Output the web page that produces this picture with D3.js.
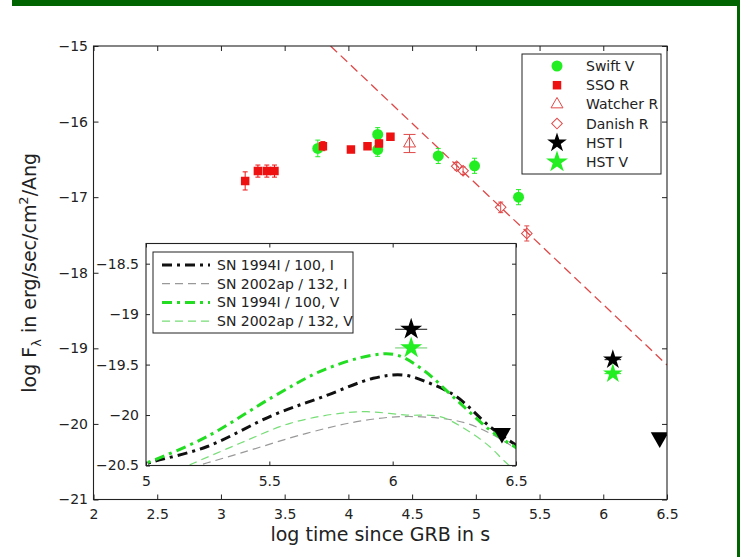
<!DOCTYPE html>
<html><head><meta charset="utf-8">
<script src="https://cdn.jsdelivr.net/npm/d3@7"></script>
<style>
body{margin:0;background:#fff}
svg{display:block}
text{font-family:"DejaVu Sans",sans-serif;fill:#222}
</style>
</head><body>
<svg id="c" width="740" height="557"></svg>
<script>
// ---------- data ----------
const xTicks = [2, 2.5, 3, 3.5, 4, 4.5, 5, 5.5, 6, 6.5];
const xTickLabels = ["2", "2.5", "3", "3.5", "4", "4.5", "5", "5.5", "6", "6.5"];
const yTicks = [-21, -20, -19, -18, -17, -16, -15];
const yTickLabels = ["\u221221", "\u221220", "\u221219", "\u221218", "\u221217", "\u221216", "\u221215"];

const insetXTicks = [5, 5.5, 6, 6.5];
const insetXTickLabels = ["5", "5.5", "6", "6.5"];
const insetYTicks = [-20.5, -20, -19.5, -19, -18.5];
const insetYTickLabels = ["\u221220.5", "\u221220", "\u221219.5", "\u221219", "\u221218.5"];

// Swift V
const swiftT   = [3.76, 4.23, 4.23, 4.705, 4.99, 5.335];
const swiftV   = [-16.355, -16.17, -16.37, -16.455, -16.585, -17.0];
const swiftErr = [0.11, 0.09, 0.09, 0.10, 0.10, 0.10];
// SSO R
const ssoT   = [3.19, 3.29, 3.36, 3.42, 3.80, 4.02, 4.15, 4.24, 4.33];
const ssoR   = [-16.785, -16.655, -16.655, -16.655, -16.325, -16.37, -16.325, -16.29, -16.2];
const ssoErr = [0.12, 0.08, 0.08, 0.08, 0.06, 0.04, 0.04, 0.05, 0.04];
// Watcher R
const watcherT = [4.48];
const watcherR = [-16.29];
const watcherErr = [0.12];
// Danish R
const danishT   = [4.85, 4.90, 5.195, 5.40];
const danishR   = [-16.59, -16.65, -17.135, -17.48];
const danishErr = [0.05, 0.05, 0.07, 0.10];
// HST
const hstT = [6.075];
const hstTErr = [0.065];
const hstI = [-19.15];
const hstV = [-19.335];
// HST I upper limit
const limT = [6.443];
const limI = [-20.18];
// power-law fit (red dashed)
const fitT = [3.86, 6.5];
const fitR = [-15.0, -19.22];

// Inset: supernova template curves
const sn94IT = [4.95, 5.016, 5.246, 5.516, 5.719, 5.921, 6.043, 6.151, 6.259, 6.394, 6.489, 6.55];
const sn94IV = [-20.53, -20.472, -20.314, -20.0, -19.818, -19.636, -19.603, -19.685, -19.818, -20.115, -20.28, -20.38];
const sn02IT = [5.08, 5.219, 5.381, 5.651, 5.854, 6.03, 6.192, 6.3, 6.394, 6.489, 6.55];
const sn02IV = [-20.6, -20.495, -20.379, -20.181, -20.066, -20.016, -20.032, -20.082, -20.181, -20.314, -20.4];
const sn94VT = [4.95, 5.016, 5.246, 5.516, 5.719, 5.921, 6.016, 6.124, 6.259, 6.394, 6.503, 6.55];
const sn94VV = [-20.52, -20.462, -20.215, -19.818, -19.554, -19.405, -19.405, -19.554, -19.851, -20.148, -20.33, -20.41];
const sn02VT = [5.08, 5.192, 5.381, 5.584, 5.786, 5.895, 6.057, 6.192, 6.3, 6.394, 6.448, 6.5];
const sn02VV = [-20.6, -20.478, -20.28, -20.082, -19.983, -19.967, -20.0, -20.016, -20.148, -20.314, -20.445, -20.56];

const mainLegend = ["Swift V", "SSO R", "Watcher R", "Danish R", "HST I", "HST V"];
const insetLegend = ["SN 1994I / 100, I", "SN 2002ap / 132, I", "SN 1994I / 100, V", "SN 2002ap / 132, V"];

// ---------- styles ----------
const GREEN = "#22ee22", RED = "#ee1111", RED2 = "#e04848", INK = "#222";
const curveStyles = [
  {color: "#111", width: 3, dash: "10,5,3,5"},
  {color: "#999", width: 1.2, dash: "8,5"},
  {color: "#22dd22", width: 3, dash: "10,5,3,5"},
  {color: "#77dd77", width: 1.2, dash: "8,5"}
];

const svg = d3.select("#c");

// green frame
svg.append("rect").attr("x", 12).attr("y", 0).attr("width", 728).attr("height", 6).attr("fill", "#006400");
svg.append("rect").attr("x", 737).attr("y", 0).attr("width", 3).attr("height", 557).attr("fill", "#006400");

// ---------- main axes ----------
const M = {l: 93.5, r: 667, t: 46, b: 499.5};
const x = d3.scaleLinear().domain([2, 6.5]).range([M.l, M.r]);
const y = d3.scaleLinear().domain([-21, -15]).range([M.b, M.t]);

function drawAxes(g, xs, ys, box, xt, xl, yt, yl, tk, padX, padY) {
  const fs = "14px";
  const b = g.append("g").attr("transform", `translate(0,${box.b})`)
    .call(d3.axisBottom(xs).tickValues(xt).tickFormat((d, i) => xl[i]).tickSizeInner(-tk).tickSizeOuter(0).tickPadding(padX));
  const t = g.append("g").attr("transform", `translate(0,${box.t})`)
    .call(d3.axisTop(xs).tickValues(xt).tickFormat("").tickSizeInner(-tk).tickSizeOuter(0));
  const l = g.append("g").attr("transform", `translate(${box.l},0)`)
    .call(d3.axisLeft(ys).tickValues(yt).tickFormat((d, i) => yl[i]).tickSizeInner(-tk).tickSizeOuter(0).tickPadding(padY));
  const r = g.append("g").attr("transform", `translate(${box.r},0)`)
    .call(d3.axisRight(ys).tickValues(yt).tickFormat("").tickSizeInner(-tk).tickSizeOuter(0));
  [b, t, l, r].forEach(a => {
    a.select(".domain").remove();
    a.selectAll(".tick line").attr("stroke", INK);
    a.selectAll("text").style("font-size", fs).attr("fill", INK).style("font-family", '"DejaVu Sans",sans-serif');
  });
  g.append("rect").attr("x", box.l).attr("y", box.t).attr("width", box.r - box.l).attr("height", box.b - box.t)
    .attr("fill", "none").attr("stroke", INK).attr("stroke-width", 1.1);
}

svg.append("defs").append("clipPath").attr("id", "mainClip")
  .append("rect").attr("x", M.l).attr("y", M.t).attr("width", M.r - M.l).attr("height", M.b - M.t);

const gMain = svg.append("g");
const gData = gMain.append("g").attr("clip-path", "url(#mainClip)");

// fit line
gData.append("path")
  .attr("d", d3.line().x((d, i) => x(fitT[i])).y((d, i) => y(fitR[i]))(fitT))
  .attr("fill", "none").attr("stroke", RED2).attr("stroke-width", 1.3).attr("stroke-dasharray", "9,5");

function errBars(g, xs, ys, T, V, E, color, cap) {
  T.forEach((t, i) => {
    const cx = xs(t), y1 = ys(V[i] - E[i]), y2 = ys(V[i] + E[i]);
    g.append("line").attr("x1", cx).attr("x2", cx).attr("y1", y1).attr("y2", y2).attr("stroke", color).attr("stroke-width", 1);
    [y1, y2].forEach(yy => g.append("line").attr("x1", cx - cap).attr("x2", cx + cap).attr("y1", yy).attr("y2", yy).attr("stroke", color).attr("stroke-width", 1));
  });
}
function hErrBars(g, xs, ys, T, TE, V, color) {
  T.forEach((t, i) => {
    const cy = ys(V[i]);
    g.append("line").attr("x1", xs(t - TE[i])).attr("x2", xs(t + TE[i])).attr("y1", cy).attr("y2", cy).attr("stroke", color).attr("stroke-width", 1);
  });
}
const sym = (type, size) => d3.symbol().type(type).size(size)();
function markers(g, xs, ys, T, V, path, fill, stroke, rot) {
  T.forEach((t, i) => {
    g.append("path").attr("d", path)
      .attr("transform", `translate(${xs(t)},${ys(V[i])})${rot ? " rotate(" + rot + ")" : ""}`)
      .attr("fill", fill).attr("stroke", stroke).attr("stroke-width", stroke === "none" ? 0 : 1);
  });
}

const P = {
  circle: sym(d3.symbolCircle, 95),
  square: sym(d3.symbolSquare, 72),
  tri: sym(d3.symbolTriangle, 62),
  diamond: sym(d3.symbolSquare, 56),
  star: sym(d3.symbolStar, 120),
  starBig: sym(d3.symbolStar, 150),
  down: sym(d3.symbolTriangle, 140)
};

errBars(gData, x, y, ssoT, ssoR, ssoErr, RED, 2.5);
errBars(gData, x, y, swiftT, swiftV, swiftErr, GREEN, 2.5);
errBars(gData, x, y, watcherT, watcherR, watcherErr, RED2, 6);
errBars(gData, x, y, danishT, danishR, danishErr, RED2, 2.5);
markers(gData, x, y, swiftT, swiftV, P.circle, GREEN, "none");
markers(gData, x, y, ssoT, ssoR, P.square, RED, "none");
markers(gData, x, y, watcherT, watcherR, P.tri, "none", RED2);
markers(gData, x, y, danishT, danishR, P.diamond, "none", RED2, 45);
hErrBars(gData, x, y, hstT, hstTErr, hstI, "#111");
hErrBars(gData, x, y, hstT, hstTErr, hstV, GREEN);
markers(gData, x, y, hstT, hstI, P.star, "#000", "none");
markers(gData, x, y, hstT, hstV, P.star, GREEN, "none");
markers(gData, x, y, limT, limI, P.down, "#000", "none", 180);

drawAxes(gMain, x, y, M, xTicks, xTickLabels, yTicks, yTickLabels, 5, 9.5, 5.5);

// axis titles
svg.append("text").attr("x", (M.l + M.r) / 2).attr("y", 541).attr("text-anchor", "middle")
  .style("font-size", "19px").text("log time since GRB in s");
const yl = svg.append("text").attr("transform", `translate(36,${(M.t + M.b) / 2}) rotate(-90)`)
  .attr("text-anchor", "middle").style("font-size", "19px");
yl.append("tspan").text("log F");
yl.append("tspan").attr("dy", 5).style("font-size", "13px").text("\u03bb");
yl.append("tspan").attr("dy", -5).text(" in erg/sec/cm");
yl.append("tspan").attr("dy", -8).style("font-size", "13px").text("2");
yl.append("tspan").attr("dy", 8).text("/Ang");

// main legend
const L = {x: 522, y: 54, w: 139, h: 120};
const gLeg = svg.append("g");
gLeg.append("rect").attr("x", L.x).attr("y", L.y).attr("width", L.w).attr("height", L.h)
  .attr("fill", "#fff").attr("stroke", INK).attr("stroke-width", 1);
const legMarks = [
  {p: P.circle, f: GREEN, s: "none"},
  {p: P.square, f: RED, s: "none"},
  {p: P.tri, f: "none", s: RED2},
  {p: P.diamond, f: "none", s: RED2, r: 45},
  {p: P.star, f: "#000", s: "none"},
  {p: P.starBig, f: GREEN, s: "none"}
];
mainLegend.forEach((name, i) => {
  const cy = 66 + i * 19.2;
  const m = legMarks[i];
  gLeg.append("path").attr("d", m.p).attr("transform", `translate(557,${cy})${m.r ? " rotate(" + m.r + ")" : ""}`)
    .attr("fill", m.f).attr("stroke", m.s).attr("stroke-width", m.s === "none" ? 0 : 1);
  gLeg.append("text").attr("x", 586).attr("y", cy + 5).style("font-size", "14px").text(name);
});

// ---------- inset ----------
const I = {l: 146, r: 516, t: 243.5, b: 465.5};
const xi = d3.scaleLinear().domain([5, 6.5]).range([I.l, I.r]);
const yi = d3.scaleLinear().domain([-20.5, -18.3]).range([I.b, I.t]);
const gIn = svg.append("g");
gIn.append("rect").attr("x", I.l).attr("y", I.t).attr("width", I.r - I.l).attr("height", I.b - I.t).attr("fill", "#fff");
svg.select("defs").append("clipPath").attr("id", "inClip")
  .append("rect").attr("x", I.l).attr("y", I.t).attr("width", I.r - I.l).attr("height", I.b - I.t);
const gInData = gIn.append("g").attr("clip-path", "url(#inClip)");

const curves = [[sn94IT, sn94IV], [sn02IT, sn02IV], [sn94VT, sn94VV], [sn02VT, sn02VV]];
const drawOrder = [1, 3, 0, 2];
drawOrder.forEach(k => {
  const [T, V] = curves[k], st = curveStyles[k];
  gInData.append("path")
    .attr("d", d3.line().curve(d3.curveCatmullRom).x((d, i) => xi(T[i])).y((d, i) => yi(V[i]))(T))
    .attr("fill", "none").attr("stroke", st.color).attr("stroke-width", st.width).attr("stroke-dasharray", st.dash);
});
hErrBars(gInData, xi, yi, hstT, hstTErr, hstI, "#111");
hErrBars(gInData, xi, yi, hstT, hstTErr, hstV, "#66cc66");
markers(gInData, xi, yi, hstT, hstI, P.starBig, "#000", "none");
markers(gInData, xi, yi, hstT, hstV, P.starBig, GREEN, "none");
markers(gInData, xi, yi, limT, limI, P.down, "#000", "none", 180);

drawAxes(gIn, xi, yi, I, insetXTicks, insetXTickLabels, insetYTicks, insetYTickLabels, 4, 10.5, 7);

// inset legend
const IL = {x: 153, y: 252, w: 200, h: 81};
gIn.append("rect").attr("x", IL.x).attr("y", IL.y).attr("width", IL.w).attr("height", IL.h)
  .attr("fill", "#fff").attr("stroke", INK).attr("stroke-width", 1);
insetLegend.forEach((name, i) => {
  const cy = 265 + i * 18.7;
  const st = curveStyles[i];
  gIn.append("line").attr("x1", 162).attr("x2", 210).attr("y1", cy).attr("y2", cy)
    .attr("stroke", st.color).attr("stroke-width", st.width).attr("stroke-dasharray", st.dash);
  gIn.append("text").attr("x", 217).attr("y", cy + 5).style("font-size", "14px").text(name);
});
</script>
</body></html>
